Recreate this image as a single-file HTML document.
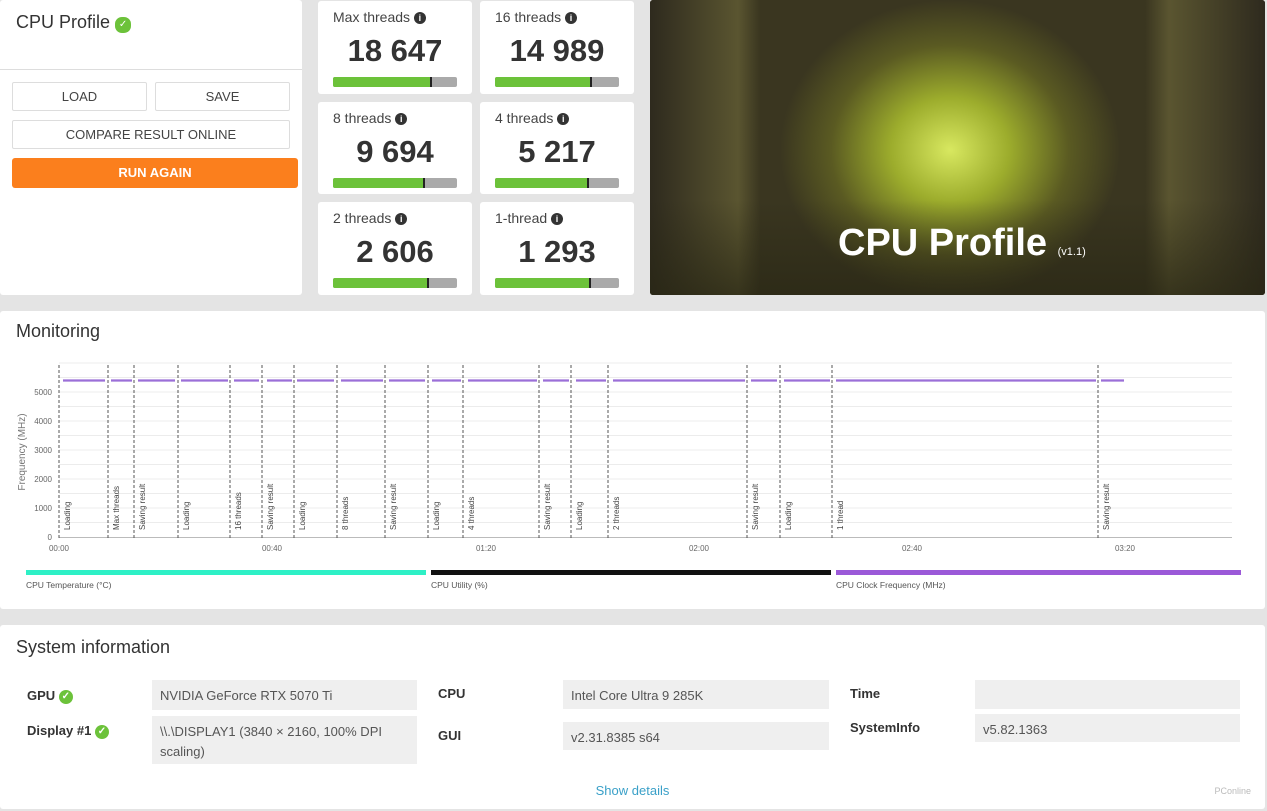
<!DOCTYPE html>
<html><head><meta charset="utf-8">
<style>
*{margin:0;padding:0;box-sizing:border-box}
body{width:1267px;height:811px;background:#e4e4e4;font-family:"Liberation Sans",sans-serif;position:relative;overflow:hidden;color:#333}
.p{position:absolute;background:#fff;border-radius:3px}
.btn{position:absolute;border:1px solid #ddd;background:#fff;font-size:13px;color:#444;text-align:center;border-radius:2px}
.card .t{position:absolute;left:15px;top:8px;font-size:14px;color:#444}
.card .v{position:absolute;left:0;right:0;top:32px;text-align:center;font-size:31px;font-weight:bold;color:#333}
.card .bar{position:absolute;left:15px;top:76px;width:124px;height:10px;background:#aaa;border-radius:2px;overflow:hidden}
.card .bar i{position:absolute;left:0;top:0;bottom:0;background:#6cc23a}
.card .bar b{position:absolute;top:-2px;width:2px;height:14px;background:#222}
.info{display:inline-block;width:12px;height:12px;border-radius:6px;background:#333;color:#fff;font-size:9px;text-align:center;line-height:12px;font-weight:bold;vertical-align:1px}
.chk{display:inline-block;width:14px;height:14px;border-radius:7px;background:#6cc23a;color:#fff;font-size:10px;text-align:center;line-height:14px;vertical-align:1px}
.lbl{position:absolute;font-size:13px;font-weight:bold;color:#333}
.val{position:absolute;background:#efefef;font-size:13px;color:#555;padding:6px 8px;line-height:20px}
</style></head><body>
<div class="p" style="left:0;top:0;width:302px;height:295px">
 <div style="position:absolute;left:16px;top:12px;font-size:18px;color:#333">CPU Profile <span class="chk" style="width:16px;height:16px;line-height:16px">✓</span></div>
 <div style="position:absolute;left:0;top:69px;width:302px;height:1px;background:#ddd"></div>
 <div class="btn" style="left:12px;top:82px;width:135px;height:29px;line-height:27px">LOAD</div>
 <div class="btn" style="left:155px;top:82px;width:135px;height:29px;line-height:27px">SAVE</div>
 <div class="btn" style="left:12px;top:120px;width:278px;height:29px;line-height:27px">COMPARE RESULT ONLINE</div>
 <div style="position:absolute;left:12px;top:158px;width:286px;height:30px;background:#fb7f1d;color:#fff;font-size:13px;font-weight:bold;text-align:center;line-height:30px;border-radius:3px">RUN AGAIN</div>
</div>

<div class="p card" style="left:318px;top:1px;width:154px;height:93px"><div class="t">Max threads <span class="info">i</span></div><div class="v">18 647</div><div class="bar"><i style="width:98px"></i><b style="left:97px"></b></div></div>
<div class="p card" style="left:480px;top:1px;width:154px;height:93px"><div class="t">16 threads <span class="info">i</span></div><div class="v">14 989</div><div class="bar"><i style="width:96px"></i><b style="left:95px"></b></div></div>
<div class="p card" style="left:318px;top:102px;width:154px;height:92px"><div class="t">8 threads <span class="info">i</span></div><div class="v">9 694</div><div class="bar"><i style="width:91px"></i><b style="left:90px"></b></div></div>
<div class="p card" style="left:480px;top:102px;width:154px;height:92px"><div class="t">4 threads <span class="info">i</span></div><div class="v">5 217</div><div class="bar"><i style="width:93px"></i><b style="left:92px"></b></div></div>
<div class="p card" style="left:318px;top:202px;width:154px;height:93px"><div class="t">2 threads <span class="info">i</span></div><div class="v">2 606</div><div class="bar"><i style="width:95px"></i><b style="left:94px"></b></div></div>
<div class="p card" style="left:480px;top:202px;width:154px;height:93px"><div class="t">1-thread <span class="info">i</span></div><div class="v">1 293</div><div class="bar"><i style="width:95px"></i><b style="left:94px"></b></div></div>

<div style="position:absolute;left:650px;top:0;width:615px;height:295px;border-radius:3px;overflow:hidden;background:radial-gradient(ellipse 170px 150px at 300px 150px,#d8e860 0%,#9cac2c 35%,#5a5a22 70%,#3a3620 100%)">
 <div style="position:absolute;left:0;top:0;width:110px;height:295px;background:linear-gradient(90deg,#2e2a1e,#5a5530 80%,transparent)"></div>
 <div style="position:absolute;right:0;top:0;width:120px;height:295px;background:linear-gradient(270deg,#2e2a1e,#5a5530 80%,transparent)"></div>
 <div style="position:absolute;left:0;top:200px;width:615px;height:95px;background:linear-gradient(180deg,rgba(40,40,20,0),rgba(40,38,20,.7))"></div>
 <div style="position:absolute;left:188px;top:222px;color:#fff;font-size:38px;font-weight:bold">CPU Profile <span style="font-size:11px;font-weight:normal">(v1.1)</span></div>
</div>

<div class="p" style="left:0;top:311px;width:1265px;height:298px">
 <div style="position:absolute;left:16px;top:10px;font-size:18px;color:#333">Monitoring</div>
</div>
<svg style="position:absolute;left:0;top:0" width="1267" height="811" font-family="Liberation Sans, sans-serif">
 <g stroke="#ececec" stroke-width="1">
  <line x1="59" x2="1232" y1="522.5" y2="522.5"/><line x1="59" x2="1232" y1="508" y2="508"/><line x1="59" x2="1232" y1="493.5" y2="493.5"/><line x1="59" x2="1232" y1="479" y2="479"/><line x1="59" x2="1232" y1="464.5" y2="464.5"/><line x1="59" x2="1232" y1="450" y2="450"/><line x1="59" x2="1232" y1="435.5" y2="435.5"/><line x1="59" x2="1232" y1="421" y2="421"/><line x1="59" x2="1232" y1="406.5" y2="406.5"/><line x1="59" x2="1232" y1="392" y2="392"/><line x1="59" x2="1232" y1="377.5" y2="377.5"/><line x1="59" x2="1232" y1="363" y2="363"/>
 </g>
 <line x1="59" x2="1232" y1="537.5" y2="537.5" stroke="#bbb"/>
 <g font-size="8" fill="#666" text-anchor="end">
  <text x="52" y="540">0</text><text x="52" y="511">1000</text><text x="52" y="482">2000</text><text x="52" y="453">3000</text><text x="52" y="424">4000</text><text x="52" y="395">5000</text>
 </g>
 <text transform="translate(25,452) rotate(-90)" font-size="10" fill="#777" text-anchor="middle">Frequency (MHz)</text>
 <g font-size="8" fill="#666" text-anchor="middle">
  <text x="59" y="551">00:00</text><text x="272" y="551">00:40</text><text x="486" y="551">01:20</text><text x="699" y="551">02:00</text><text x="912" y="551">02:40</text><text x="1125" y="551">03:20</text>
 </g>
 <g stroke="#555" stroke-dasharray="3,2" stroke-width="1">
  <line x1="59" x2="59" y1="365" y2="540"/><line x1="108" x2="108" y1="365" y2="540"/><line x1="134" x2="134" y1="365" y2="540"/><line x1="178" x2="178" y1="365" y2="540"/><line x1="230" x2="230" y1="365" y2="540"/><line x1="262" x2="262" y1="365" y2="540"/><line x1="294" x2="294" y1="365" y2="540"/><line x1="337" x2="337" y1="365" y2="540"/><line x1="385" x2="385" y1="365" y2="540"/><line x1="428" x2="428" y1="365" y2="540"/><line x1="463" x2="463" y1="365" y2="540"/><line x1="539" x2="539" y1="365" y2="540"/><line x1="571" x2="571" y1="365" y2="540"/><line x1="608" x2="608" y1="365" y2="540"/><line x1="747" x2="747" y1="365" y2="540"/><line x1="780" x2="780" y1="365" y2="540"/><line x1="832" x2="832" y1="365" y2="540"/><line x1="1098" x2="1098" y1="365" y2="540"/>
 </g>
 <g font-size="8" fill="#444">
  <text transform="translate(70,530) rotate(-90)">Loading</text>
  <text transform="translate(119,530) rotate(-90)">Max threads</text>
  <text transform="translate(145,530) rotate(-90)">Saving result</text>
  <text transform="translate(189,530) rotate(-90)">Loading</text>
  <text transform="translate(241,530) rotate(-90)">16 threads</text>
  <text transform="translate(273,530) rotate(-90)">Saving result</text>
  <text transform="translate(305,530) rotate(-90)">Loading</text>
  <text transform="translate(348,530) rotate(-90)">8 threads</text>
  <text transform="translate(396,530) rotate(-90)">Saving result</text>
  <text transform="translate(439,530) rotate(-90)">Loading</text>
  <text transform="translate(474,530) rotate(-90)">4 threads</text>
  <text transform="translate(550,530) rotate(-90)">Saving result</text>
  <text transform="translate(582,530) rotate(-90)">Loading</text>
  <text transform="translate(619,530) rotate(-90)">2 threads</text>
  <text transform="translate(758,530) rotate(-90)">Saving result</text>
  <text transform="translate(791,530) rotate(-90)">Loading</text>
  <text transform="translate(843,530) rotate(-90)">1 thread</text>
  <text transform="translate(1109,530) rotate(-90)">Saving result</text>
 </g>
 <g stroke="#9b6fd8" stroke-width="2.2">
  <line x1="63" x2="105" y1="380.5" y2="380.5"/><line x1="111" x2="132" y1="380.5" y2="380.5"/><line x1="138" x2="175" y1="380.5" y2="380.5"/><line x1="181" x2="228" y1="380.5" y2="380.5"/><line x1="234" x2="259" y1="380.5" y2="380.5"/><line x1="267" x2="292" y1="380.5" y2="380.5"/><line x1="297" x2="334" y1="380.5" y2="380.5"/><line x1="341" x2="383" y1="380.5" y2="380.5"/><line x1="389" x2="425" y1="380.5" y2="380.5"/><line x1="432" x2="461" y1="380.5" y2="380.5"/><line x1="468" x2="537" y1="380.5" y2="380.5"/><line x1="543" x2="569" y1="380.5" y2="380.5"/><line x1="576" x2="606" y1="380.5" y2="380.5"/><line x1="613" x2="745" y1="380.5" y2="380.5"/><line x1="751" x2="777" y1="380.5" y2="380.5"/><line x1="784" x2="830" y1="380.5" y2="380.5"/><line x1="836" x2="1096" y1="380.5" y2="380.5"/><line x1="1101" x2="1124" y1="380.5" y2="380.5"/>
 </g>
 <rect x="26" y="570" width="400" height="5" fill="#2ef0c6"/>
 <rect x="431" y="570" width="400" height="5" fill="#111"/>
 <rect x="836" y="570" width="405" height="5" fill="#9b59d8"/>
 <g font-size="8.5" fill="#555">
  <text x="26" y="588">CPU Temperature (°C)</text><text x="431" y="588">CPU Utility (%)</text><text x="836" y="588">CPU Clock Frequency (MHz)</text>
 </g>
</svg>

<div class="p" style="left:0;top:625px;width:1265px;height:184px">
 <div style="position:absolute;left:16px;top:12px;font-size:18px;color:#333">System information</div>
 <div class="lbl" style="left:27px;top:63px">GPU <span class="chk">✓</span></div>
 <div class="lbl" style="left:27px;top:98px">Display #1 <span class="chk">✓</span></div>
 <div class="val" style="left:152px;top:55px;width:265px;height:30px">NVIDIA GeForce RTX 5070 Ti</div>
 <div class="val" style="left:152px;top:91px;width:265px;height:48px">\\.\DISPLAY1 (3840 × 2160, 100% DPI scaling)</div>
 <div class="lbl" style="left:438px;top:61px">CPU</div>
 <div class="lbl" style="left:438px;top:103px">GUI</div>
 <div class="val" style="left:563px;top:55px;width:266px;height:29px">Intel Core Ultra 9 285K</div>
 <div class="val" style="left:563px;top:97px;width:266px;height:28px">v2.31.8385 s64</div>
 <div class="lbl" style="left:850px;top:61px">Time</div>
 <div class="lbl" style="left:850px;top:95px">SystemInfo</div>
 <div class="val" style="left:975px;top:55px;width:265px;height:29px"></div>
 <div class="val" style="left:975px;top:89px;width:265px;height:28px">v5.82.1363</div>
 <div style="position:absolute;left:0;width:1265px;top:158px;text-align:center;font-size:13px;color:#3aa0c8">Show details</div>
 <div style="position:absolute;right:14px;top:161px;font-size:9px;color:#bbb">PConline</div>
</div>
</body></html>
